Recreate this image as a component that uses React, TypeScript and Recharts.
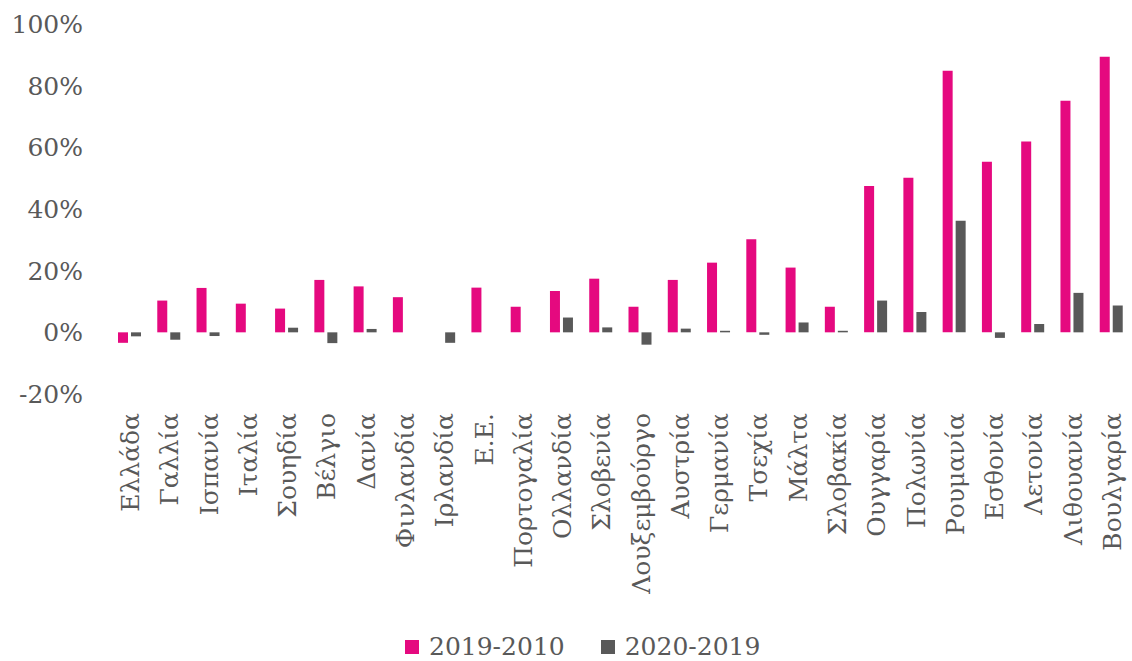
import React from 'react'
import { BarChart, Bar, XAxis, YAxis, Legend } from 'recharts'

const countries = [
  'Ελλάδα', 'Γαλλία', 'Ισπανία', 'Ιταλία', 'Σουηδία', 'Βέλγιο', 'Δανία',
  'Φινλανδία', 'Ιρλανδία', 'Ε.Ε.', 'Πορτογαλία', 'Ολλανδία', 'Σλοβενία',
  'Λουξεμβούργο', 'Αυστρία', 'Γερμανία', 'Τσεχία', 'Μάλτα', 'Σλοβακία',
  'Ουγγαρία', 'Πολωνία', 'Ρουμανία', 'Εσθονία', 'Λετονία', 'Λιθουανία',
  'Βουλγαρία',
]

const change2010to2019 = [
  -3.4, 10.3, 14.4, 9.3, 7.7, 17.0, 14.9, 11.4, 0, 14.5, 8.3, 13.4, 17.4,
  8.3, 17.0, 22.6, 30.2, 21.0, 8.3, 47.5, 50.1, 84.8, 55.3, 61.9, 75.1, 89.4,
]

const change2019to2020 = [
  -1.3, -2.4, -1.2, 0, 1.5, -3.5, 1.1, 0, -3.4, 0, 0, 4.8, 1.6,
  -4.0, 1.2, 0.5, -0.8, 3.2, 0.5, 10.3, 6.6, 36.2, -1.8, 2.7, 12.8, 8.7,
]

const yTicks = [-20, 0, 20, 40, 60, 80, 100]

const seriesNames = ['2019-2010', '2020-2019']
const PINK = '#e5097f'
const GREY = '#595959'
const FONT = '"DejaVu Serif", serif'

const data = countries.map((name, i) => ({
  name,
  a: change2010to2019[i],
  b: change2019to2020[i],
}))

const XTick = ({ x, y, payload }: any) => (
  <text
    x={x + 1}
    y={y}
    transform={`rotate(-90, ${x + 1}, ${y})`}
    textAnchor="end"
    dominantBaseline="central"
    fontFamily={FONT}
    fontSize={25}
    fill={GREY}>
    {payload.value}
  </text>
)

const LegendBox = () => (
  <div style={{ display: 'flex', alignItems: 'center', fontFamily: FONT, fontSize: 25, color: GREY }}>
    {[PINK, GREY].map((c, i) => (
      <div key={i} style={{ display: 'flex', alignItems: 'center', marginRight: 36 }}>
        <span style={{ width: 14, height: 14, background: c, marginRight: 10, display: 'inline-block' }} />
        <span>{seriesNames[i]}</span>
      </div>
    ))}
  </div>
)

const App = () => (
  <div style={{ position: 'absolute', left: 0, top: 0, background: '#fff' }}>
    <BarChart
      width={1132}
      height={661}
      data={data}
      margin={{ top: 24, right: 1, left: 0, bottom: 67 }}
      barGap={3}
      barSize={10}>
      <XAxis
        dataKey="name"
        interval={0}
        axisLine={false}
        tickLine={false}
        tickSize={0}
        tickMargin={19}
        height={200}
        tick={<XTick />}
      />
      <YAxis
        domain={[-20, 100]}
        ticks={yTicks}
        width={110}
        axisLine={false}
        tickLine={false}
        tickSize={0}
        tickMargin={27}
        tickFormatter={(v: number) => `${v}%`}
        tick={{ fontFamily: FONT, fontSize: 25, fill: GREY }}
      />
      <Legend
        layout="horizontal"
        verticalAlign="middle"
        align="center"
        wrapperStyle={{ top: 632, left: 405, width: 'auto' }}
        content={<LegendBox />}
      />
      <Bar dataKey="a" name={seriesNames[0]} fill={PINK} isAnimationActive={false} />
      <Bar dataKey="b" name={seriesNames[1]} fill={GREY} isAnimationActive={false} />
    </BarChart>
  </div>
)

export default App
